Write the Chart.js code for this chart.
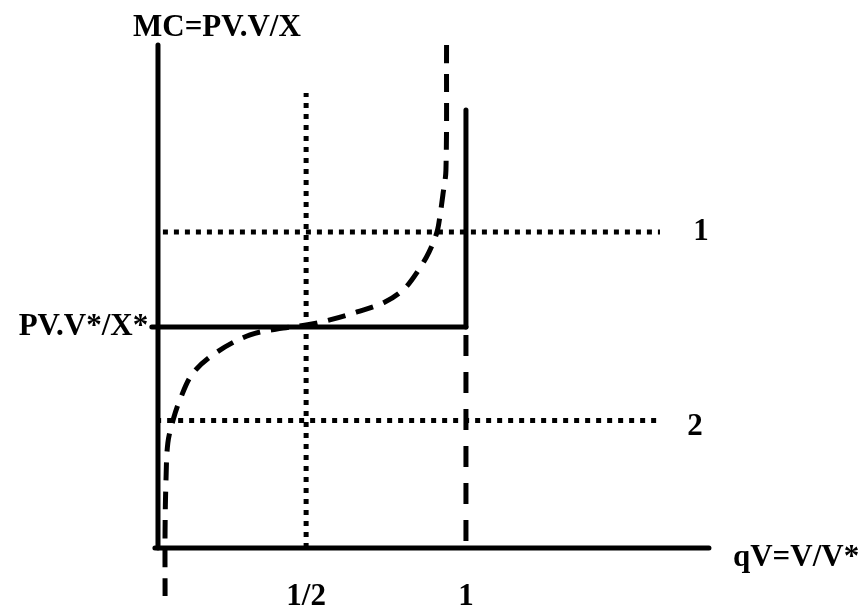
<!DOCTYPE html>
<html>
<head>
<meta charset="utf-8">
<script src="https://cdn.jsdelivr.net/npm/chart.js@4"></script>
<style>
html,body{margin:0;padding:0;background:#fff;}
#wrap{width:862px;height:608px;position:relative;}
</style>
</head>
<body>
<div id="wrap"><canvas id="c"></canvas></div>
<script>
// ---- data (qV = V/V*, MC in units of PV.V*/X*) ----
const curveQ  = [0.937,0.935,0.925,0.916,0.906,0.880,0.844,0.799,0.737,0.646,0.558,0.481,0.406,0.299,0.192,0.114,0.071,0.049,0.032,0.026,0.023,0.023];
const curveMC = [2.276,1.710,1.597,1.507,1.430,1.339,1.253,1.172,1.113,1.068,1.032,1.009,0.995,0.964,0.887,0.792,0.670,0.579,0.475,0.308,0.081,-0.217];
const halfQ = 0.481;           // the "1/2" reference
const fullQ = 1;               // the "1" reference
const pvLevel = 1;             // PV.V*/X*
const level1 = 1.43;           // horizontal line 1
const level2 = 0.577;          // horizontal line 2
const yAxisTop = 2.276;
const xAxisEnd = 1.789;
const capTop = 1.982;          // top of vertical solid at qV=1
const halfTop = 2.059;         // top of dotted vertical at 1/2
const line1Span = [0.016, 1.630];
const line2Span = [-0.006, 1.620];
const tickLabels = ["1/2", "1"];
const tickValues = [halfQ, fullQ];
const yAxisTitle = "MC=PV.V/X";
const xAxisTitle = "qV=V/V*";
const pvLabel = "PV.V*/X*";
const levelLabels = ["1", "2"];

const solid = (pts) => ({data: pts, borderColor:'#000', borderWidth:5, pointRadius:0, borderCapStyle:'round', fill:false, tension:0});
const dotted = (pts) => ({data: pts, borderColor:'#000', borderWidth:5, pointRadius:0, borderDash:[5,6], borderCapStyle:'butt', fill:false, tension:0});

const datasets = [
  solid([{x:0,y:0},{x:0,y:yAxisTop}]),
  solid([{x:-0.01,y:0},{x:xAxisEnd,y:0}]),
  solid([{x:-0.02,y:pvLevel},{x:fullQ,y:pvLevel}]),
  solid([{x:fullQ,y:pvLevel},{x:fullQ,y:capTop}]),
  dotted([{x:halfQ,y:0},{x:halfQ,y:halfTop}]),
  dotted([{x:line1Span[0],y:level1},{x:line1Span[1],y:level1}]),
  dotted([{x:line2Span[0],y:level2},{x:line2Span[1],y:level2}]),
  {data:[{x:fullQ,y:pvLevel},{x:fullQ,y:0}], borderColor:'#000', borderWidth:5, pointRadius:0, borderDash:[21,16], borderDashOffset:-8, fill:false, tension:0},
  {data: curveQ.map((q,i)=>({x:q,y:curveMC[i]})), borderColor:'#000', borderWidth:5, pointRadius:0, borderDash:[18,11], fill:false, tension:0.35, borderCapStyle:'butt'}
];

const labelPlugin = {
  id:'labels',
  afterDraw(chart){
    const {ctx, scales:{x, y}} = chart;
    ctx.save();
    ctx.fillStyle = '#000';
    ctx.font = 'bold 31px "Liberation Serif", "Times New Roman", serif';
    ctx.textBaseline = 'middle';
    ctx.textAlign = 'center';
    tickLabels.forEach((t,i)=>{
      ctx.fillText(t, x.getPixelForValue(tickValues[i]), y.getPixelForValue(-0.22));
    });
    ctx.fillText(levelLabels[0], x.getPixelForValue(1.763), y.getPixelForValue(level1));
    ctx.fillText(levelLabels[1], x.getPixelForValue(1.744), y.getPixelForValue(level2 - 0.03));
    ctx.textAlign = 'left';
    ctx.fillText(yAxisTitle, x.getPixelForValue(-0.081), y.getPixelForValue(2.353));
    ctx.fillText(xAxisTitle, x.getPixelForValue(1.867), y.getPixelForValue(-0.045));
    ctx.textAlign = 'right';
    ctx.fillText(pvLabel, x.getPixelForValue(-0.032), y.getPixelForValue(pvLevel));
    ctx.restore();
  }
};

new Chart(document.getElementById('c'), {
  type: 'line',
  data: { datasets },
  options: {
    responsive: true,
    maintainAspectRatio: false,
    animation: false,
    events: [],
    layout: { padding: 0 },
    plugins: { legend:{display:false}, tooltip:{enabled:false} },
    scales: {
      x: { type:'linear', display:false, min:-0.513, max:2.286 },
      y: { type:'linear', display:false, min:-0.2715, max:2.4796 }
    }
  },
  plugins: [labelPlugin]
});
</script>
</body>
</html>
